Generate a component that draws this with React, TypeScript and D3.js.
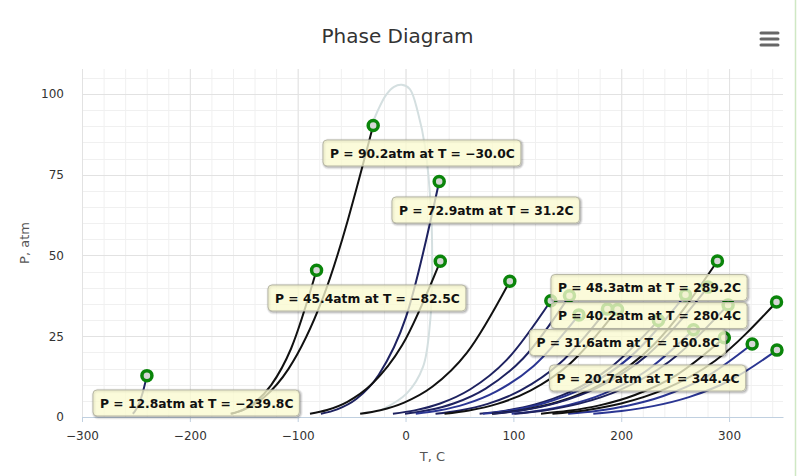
import React from 'react';
import * as d3 from 'd3';

// one vapour-pressure curve per substance, from ~1 atm up to its critical point
const seriesNames = [
  'Hydrogen', 'Series 2', 'Methane', 'Carbon dioxide', 'Ethane', 'Propane',
  'Isobutane', 'n-Butane', 'Neopentane', 'Isopentane', 'n-Pentane', 'n-Hexane',
  'Methylcyclopentane', 'Benzene', 'Cyclohexane', 'n-Heptane', 'Methylcyclohexane',
  'n-Octane', 'n-Nonane', 'n-Decane', 'Ethylbenzene',
];

// temperatures, C
const seriesTemps = [
  [-252.9, -251.2, -249.1, -246.6, -243.6, -239.8],
  [-162.2, -148.7, -131.4, -108.5, -76.8, -30.0],
  [-161.5, -151.4, -139.3, -124.6, -106.1, -82.5],
  [-78.5, -63.4, -45.7, -24.8, 0.4, 31.2],
  [-88.6, -72.8, -53.9, -31.2, -3.2, 32.2],
  [-42.1, -23.4, -1.3, 25.1, 57.0, 96.7],
  [-11.7, 8.5, 32.1, 60.1, 93.6, 134.7],
  [-0.5, 20.6, 45.2, 74.3, 109.2, 152.0],
  [9.5, 30.7, 55.3, 84.3, 118.8, 160.8],
  [27.8, 50.2, 76.2, 106.7, 143.1, 187.2],
  [36.1, 58.8, 85.1, 115.8, 152.4, 196.6],
  [68.7, 92.6, 120.1, 152.0, 189.6, 234.5],
  [71.8, 98.0, 128.4, 164.3, 207.3, 259.6],
  [80.1, 108.5, 141.8, 181.5, 229.7, 289.2],
  [80.7, 108.2, 140.4, 178.5, 224.3, 280.4],
  [98.4, 123.1, 151.4, 184.0, 222.1, 267.0],
  [100.9, 128.8, 161.1, 199.0, 244.3, 299.1],
  [125.6, 151.0, 179.8, 212.7, 250.9, 295.6],
  [150.8, 176.6, 205.8, 239.0, 277.1, 321.4],
  [174.1, 200.2, 229.5, 262.8, 300.7, 344.4],
  [136.2, 165.8, 199.9, 239.8, 287.1, 344.0],
];

// pressures, atm
const seriesPressures = [
  [1, 1.67, 2.77, 4.62, 7.69, 12.8],
  [1, 2.46, 6.05, 14.9, 36.7, 90.2],
  [1, 2.15, 4.6, 9.87, 21.2, 45.4],
  [1, 2.36, 5.56, 13.1, 30.9, 72.9],
  [1, 2.17, 4.71, 10.2, 22.2, 48.2],
  [1, 2.11, 4.46, 9.42, 19.9, 42.0],
  [1, 2.05, 4.19, 8.59, 17.6, 36.0],
  [1, 2.07, 4.26, 8.8, 18.2, 37.5],
  [1, 2.0, 3.98, 7.94, 15.8, 31.6],
  [1, 2.02, 4.07, 8.21, 16.6, 33.4],
  [1, 2.02, 4.06, 8.19, 16.5, 33.3],
  [1, 1.97, 3.89, 7.68, 15.2, 29.9],
  [1, 2.07, 4.28, 8.84, 18.3, 37.8],
  [1, 2.17, 4.72, 10.2, 22.2, 48.3],
  [1, 2.09, 4.38, 9.17, 19.2, 40.2],
  [1, 1.93, 3.74, 7.23, 14.0, 27.0],
  [1, 2.03, 4.13, 8.4, 17.1, 34.7],
  [1, 1.9, 3.6, 6.82, 12.9, 24.5],
  [1, 1.87, 3.48, 6.49, 12.1, 22.6],
  [1, 1.83, 3.36, 6.16, 11.3, 20.7],
  [1, 2.04, 4.17, 8.53, 17.4, 35.6],
];

// the pale loop drawn behind the curves
const loopTemps = [-31.1, -25.5, -18.0, -10.7, -3.5, 4.0, 11.6, 18.1, 23.7, 24.6, 22.7, 16.2, 1.4, -22.0];
const loopPressures = [90.4, 95.0, 99.7, 102.2, 102.8, 101.5, 94.1, 83.6, 63.2, 44.6, 29.1, 15.5, 7.4, 2.2];

const xTicks = [-300, -200, -100, 0, 100, 200, 300];
const yTicks = [0, 25, 50, 75, 100];

// which series have a tooltip open
const tooltipSeries = ['Series 2', 'Carbon dioxide', 'Methane', 'Hydrogen', 'Benzene', 'Cyclohexane', 'Neopentane', 'n-Decane'];

// styles / layout
const black = '#111';
const navy = '#1e2260';
const blue = '#2a3592';
const seriesColors = [
  navy, black, black, navy, black, black, navy, navy, blue, navy, black, navy,
  blue, black, navy, blue, navy, black, blue, blue, black,
];
const tooltipBoxes = [
  [323, 140], [392, 197], [268, 285], [93, 390], [551, 274.5], [551, 302.5], [529.5, 329.5], [549.5, 365],
];

function draw(el: SVGSVGElement) {
  const svg = d3.select(el);
  svg.selectAll('*').remove();

  const left = 82, right = 783, top = 69, bottom = 417;
  const x = d3.scaleLinear([-300, 350], [left, right]);
  const y = d3.scaleLinear([0, 107.7], [bottom, top]);

  svg.append('rect').attr('width', 800).attr('height', 476).attr('fill', '#fff');
  svg.append('line').attr('x1', 795.5).attr('x2', 795.5).attr('y1', 0).attr('y2', 476)
    .attr('stroke', '#cfe8c4').attr('stroke-width', 1.5);

  // grid
  const grid = svg.append('g');
  grid.selectAll('.xminor').data(d3.range(-300, 341, 20)).enter().append('line')
    .attr('x1', (d) => x(d) + 0.5).attr('x2', (d) => x(d) + 0.5)
    .attr('y1', top).attr('y2', bottom).attr('stroke', '#f0f0f0');
  grid.selectAll('.yminor').data(d3.range(0, 106, 5)).enter().append('line')
    .attr('y1', (d) => Math.round(y(d)) + 0.5).attr('y2', (d) => Math.round(y(d)) + 0.5)
    .attr('x1', left).attr('x2', right).attr('stroke', '#f0f0f0');
  grid.selectAll('.xmajor').data(xTicks).enter().append('line')
    .attr('x1', (d) => x(d) + 0.5).attr('x2', (d) => x(d) + 0.5)
    .attr('y1', top).attr('y2', bottom).attr('stroke', '#e2e2e2');
  grid.selectAll('.ymajor').data(yTicks).enter().append('line')
    .attr('y1', (d) => Math.round(y(d)) + 0.5).attr('y2', (d) => Math.round(y(d)) + 0.5)
    .attr('x1', left).attr('x2', right).attr('stroke', '#e2e2e2');

  // axes
  const xAxis = svg.append('g').attr('transform', `translate(0,${bottom})`)
    .call(d3.axisBottom(x).tickValues(xTicks).tickSize(5).tickPadding(9).tickSizeOuter(0));
  xAxis.select('.domain').attr('stroke', '#c0d0e0');
  xAxis.selectAll('line').attr('stroke', '#c0d0e0');
  xAxis.selectAll('text').attr('font-family', 'DejaVu Sans').attr('font-size', 12).attr('fill', '#333');

  const yAxis = svg.append('g').attr('transform', `translate(${left},0)`)
    .call(d3.axisLeft(y).tickValues(yTicks).tickSize(0).tickPadding(18));
  yAxis.select('.domain').remove();
  yAxis.selectAll('text').attr('font-family', 'DejaVu Sans').attr('font-size', 12).attr('fill', '#333');

  svg.append('text').text('T, C').attr('x', (left + right) / 2).attr('y', 461)
    .attr('text-anchor', 'middle').attr('font-family', 'DejaVu Sans').attr('font-size', 13).attr('fill', '#555');
  svg.append('text').text('P, atm').attr('transform', `translate(28.5,${(top + bottom) / 2}) rotate(-90)`)
    .attr('text-anchor', 'middle').attr('font-family', 'DejaVu Sans').attr('font-size', 13).attr('fill', '#555');

  svg.append('text').text('Phase Diagram').attr('x', 397.5).attr('y', 43)
    .attr('text-anchor', 'middle').attr('font-family', 'DejaVu Sans').attr('font-size', 20).attr('fill', '#333');

  // menu button
  svg.append('g').selectAll('line').data([33, 39, 45]).enter().append('line')
    .attr('x1', 761).attr('x2', 778).attr('y1', (d) => d).attr('y2', (d) => d)
    .attr('stroke', '#666').attr('stroke-width', 3).attr('stroke-linecap', 'round');

  // pale loop
  const loop = d3.line<number>().x((_, i) => x(loopTemps[i])).y((d) => y(d)).curve(d3.curveCatmullRom);
  svg.append('path').attr('d', loop(loopPressures)).attr('fill', 'none')
    .attr('stroke', '#d4dfe0').attr('stroke-width', 2);

  // curves
  const lines = svg.append('g');
  seriesNames.forEach((_, s) => {
    const pts = seriesTemps[s].map((t, i) => [t, seriesPressures[s][i]] as [number, number]);
    const line = d3.line<[number, number]>().x((d) => x(d[0])).y((d) => y(d[1])).curve(d3.curveMonotoneX);
    lines.append('path').attr('d', line(pts)).attr('fill', 'none')
      .attr('stroke', seriesColors[s]).attr('stroke-width', 2);
  });

  // critical-point markers
  svg.append('g').selectAll('circle').data(seriesNames).enter().append('circle')
    .attr('cx', (_, s) => x(seriesTemps[s][seriesTemps[s].length - 1]))
    .attr('cy', (_, s) => y(seriesPressures[s][seriesPressures[s].length - 1]))
    .attr('r', 5).attr('fill', '#d6d6d6').attr('stroke', '#0a850a').attr('stroke-width', 3.5);

  // tooltips
  const fmt = d3.format('.1f');
  tooltipSeries.forEach((name, k) => {
    const s = seriesNames.indexOf(name);
    const t = seriesTemps[s][seriesTemps[s].length - 1];
    const p = seriesPressures[s][seriesPressures[s].length - 1];
    const [bx, by] = tooltipBoxes[k];
    const g = svg.append('g').attr('transform', `translate(${bx},${by})`);
    const shadow = g.append('g');
    const box = g.append('rect').attr('rx', 4).attr('height', 26)
      .attr('fill', 'rgb(250,250,208)').attr('fill-opacity', 0.78)
      .attr('stroke', '#b9b9a6').attr('stroke-width', 1);
    const label = g.append('text').text(`P = ${fmt(p)}atm at T = ${fmt(t)}C`)
      .attr('x', 7).attr('y', 17.5).attr('font-family', 'DejaVu Sans').attr('font-weight', 'bold')
      .attr('font-size', 12.3).attr('fill', '#111');
    const w = (label.node() as SVGTextElement).getComputedTextLength() + 13;
    box.attr('width', w);
    [[5, 0.05], [3, 0.1], [1, 0.15]].forEach(([sw, op]) => {
      shadow.append('rect').attr('x', 1).attr('y', 1).attr('rx', 4).attr('width', w).attr('height', 26)
        .attr('fill', 'none').attr('stroke', '#000').attr('stroke-opacity', op).attr('stroke-width', sw);
    });
  });
}

export default function App() {
  const ref = React.useRef<SVGSVGElement>(null);
  React.useEffect(() => {
    if (ref.current) draw(ref.current);
  }, []);
  return (
    <svg ref={ref} width={800} height={476}
      style={{ position: 'absolute', left: 0, top: 0, display: 'block' }} />
  );
}
